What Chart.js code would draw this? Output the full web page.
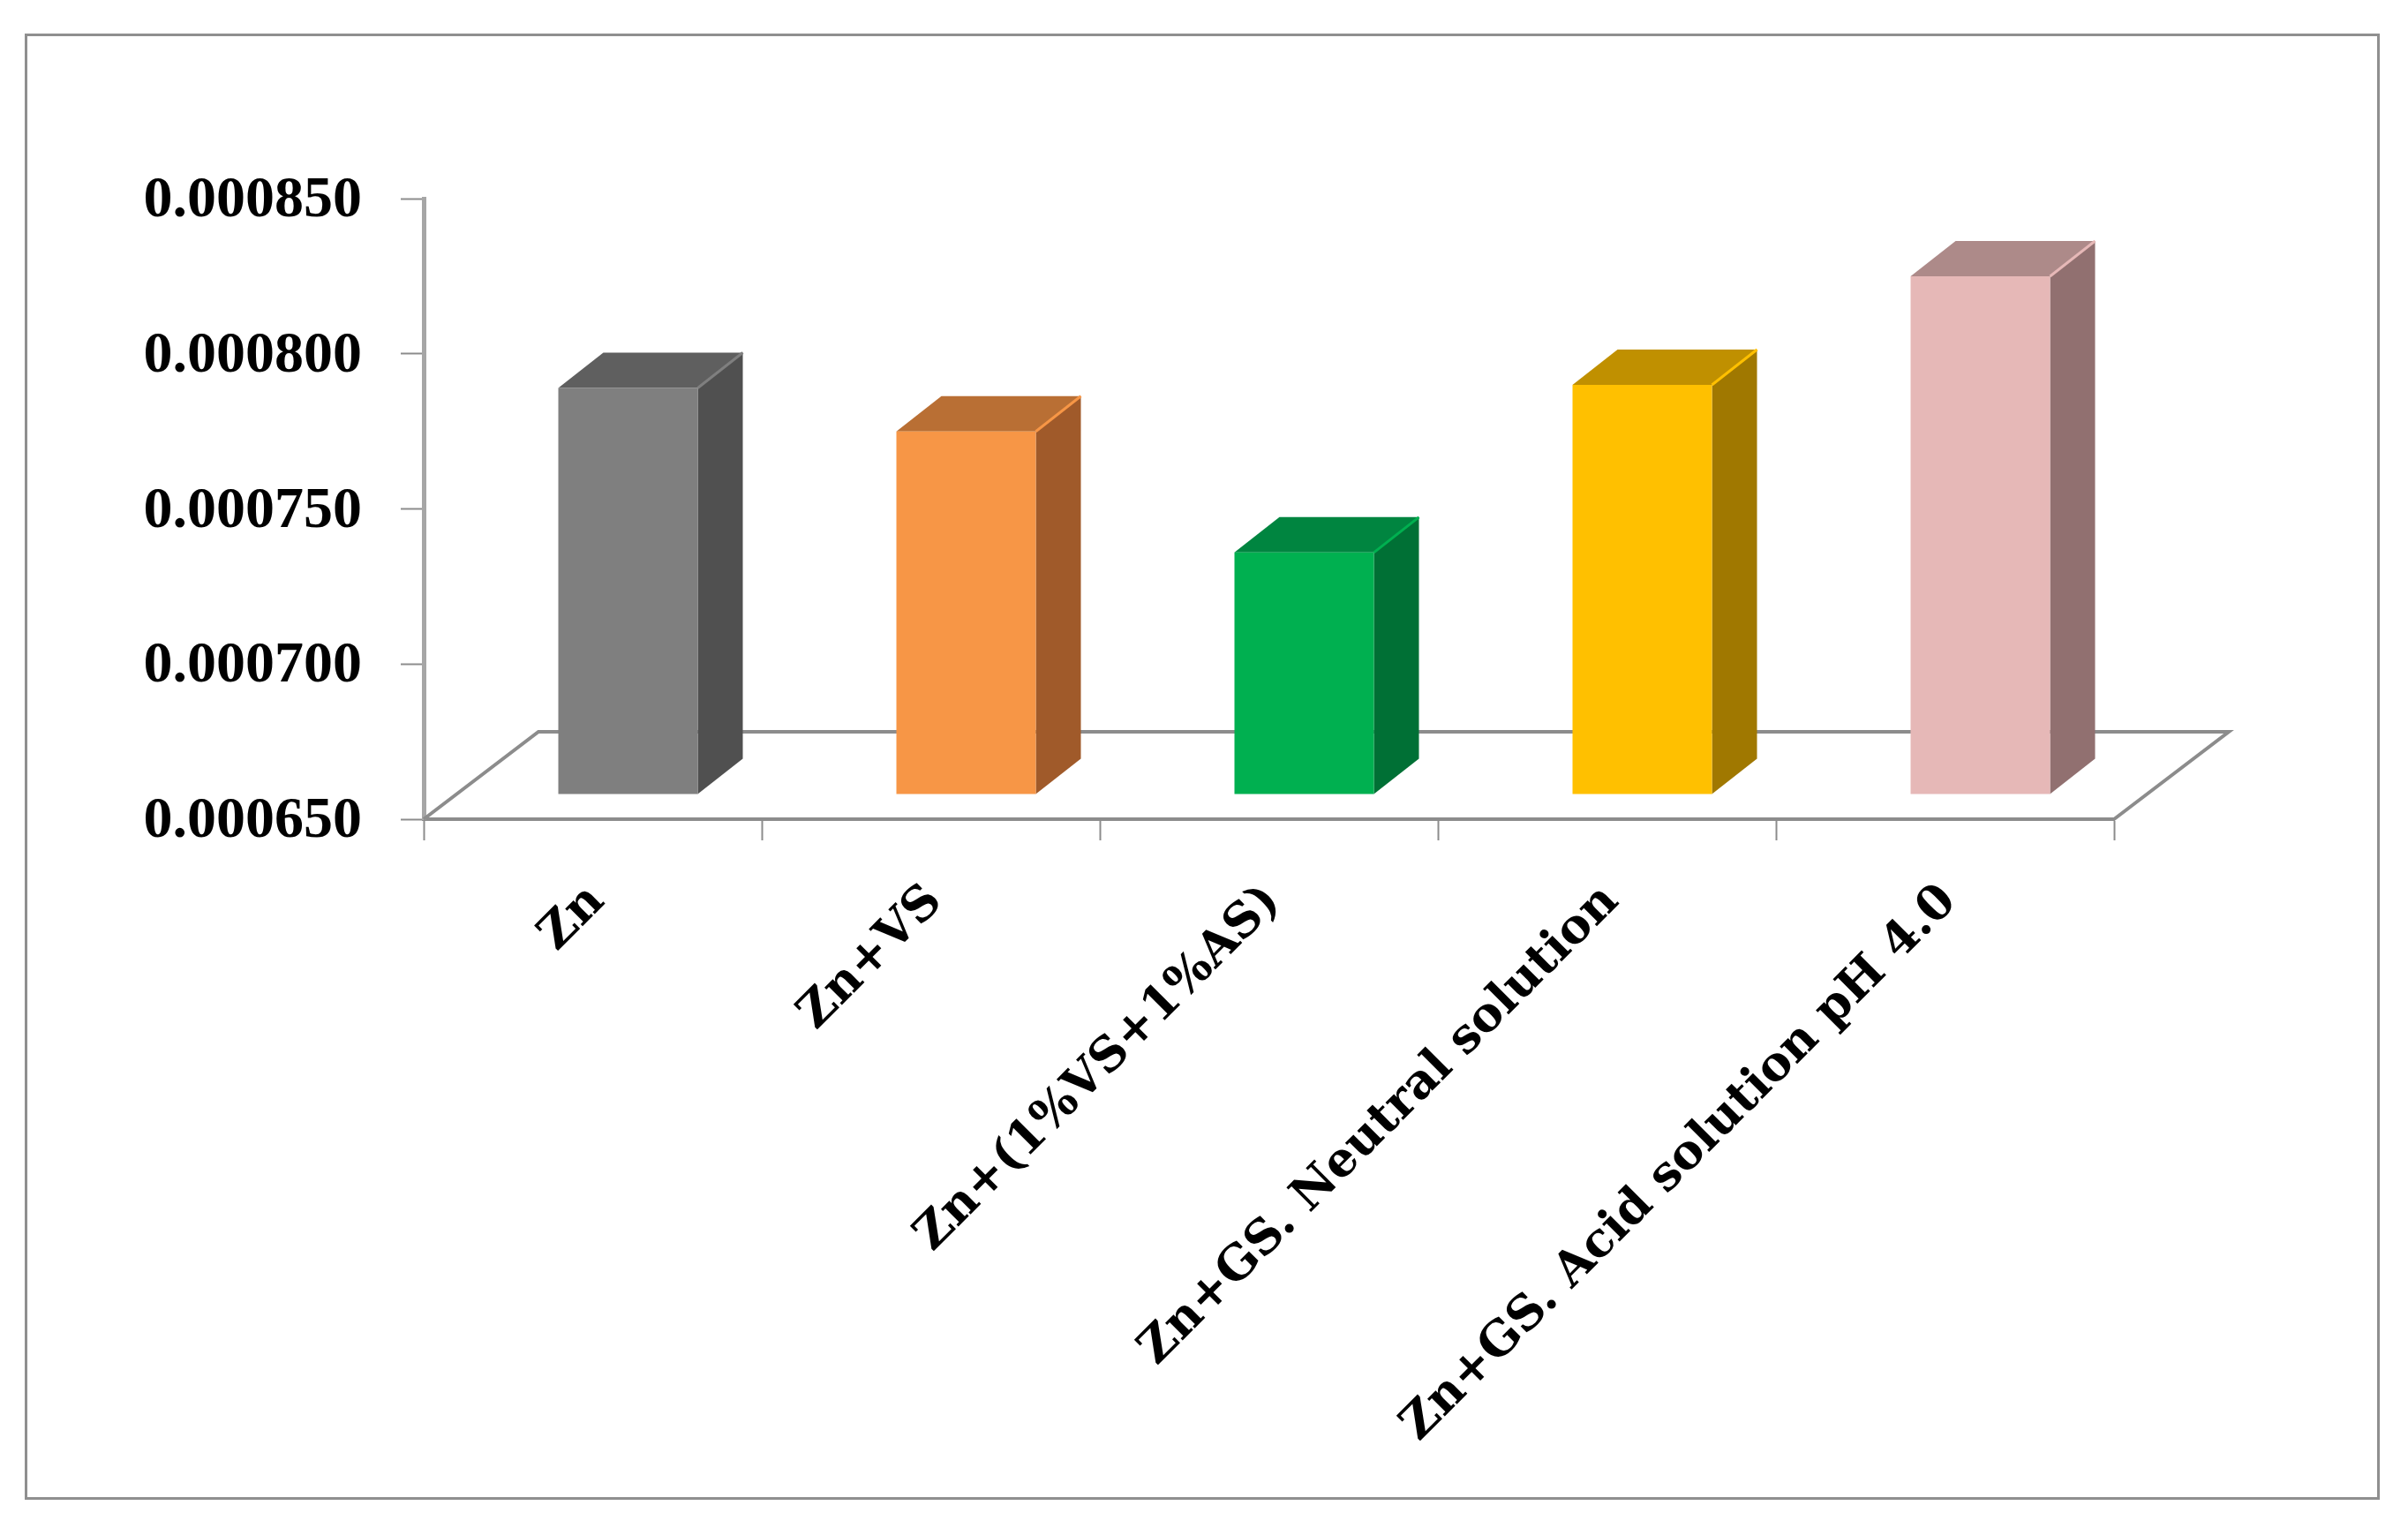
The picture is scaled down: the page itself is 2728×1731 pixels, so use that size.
<!DOCTYPE html>
<html lang="en">
<head>
    <meta charset="UTF-8">
    <title>Zn bars</title>
    <script src="https://cdn.jsdelivr.net/npm/chart.js"></script>
    <style>
        body {
            margin: 0;
            background: #fff;
        }
        canvas {
            position: absolute;
            left: 0;
            top: 0;
        }
        .frame {
            position: absolute;
            left: 28px;
            top: 38px;
            width: 2662px;
            height: 1655px;
            border: 3px solid #8f8f8f;
        }
    </style>
</head>
<body>
    <div class="frame"></div>
    <canvas id="barChart" width="2728" height="1731"></canvas>

    <script>
        const categories = ['Zn', 'Zn+VS', 'Zn+(1%VS+1%AS)', 'Zn+GS. Neutral solution', 'Zn+GS. Acid solution pH 4.0'];
        const values = [0.000781, 0.000767, 0.000728, 0.000782, 0.000817];
        const frontColors = ['#7f7f7f', '#f79646', '#00b050', '#ffc000', '#e6b8b7'];
        const topColors = ['#5f5f5f', '#b96f34', '#008540', '#c09000', '#ad8a89'];
        const sideColors = ['#505050', '#a05a2a', '#007035', '#a07800', '#917070'];
        const yMin = 0.00065;
        const yMax = 0.00085;
        const yStep = 0.00005;

        // offset of the floor depth, and of the bar front inside that depth
        const floorDepth = { x: 130, y: -99 };
        const barShift = { x: 40, y: -28 };
        const barDepth = { x: 51, y: -40 };

        function poly(ctx, color, pts) {
            ctx.fillStyle = color;
            ctx.beginPath();
            pts.forEach((p, i) => i ? ctx.lineTo(p[0], p[1]) : ctx.moveTo(p[0], p[1]));
            ctx.closePath();
            ctx.fill();
        }

        // fake 3D: floor outline, then the side and top faces, with the bar itself moved onto the floor
        const fake3d = {
            id: 'fake3d',
            beforeDatasetsDraw(chart) {
                const { ctx, chartArea: a } = chart;
                ctx.save();
                ctx.strokeStyle = '#8c8c8c';
                ctx.lineWidth = 4;
                ctx.beginPath();
                ctx.moveTo(a.left, a.bottom);
                ctx.lineTo(a.left + floorDepth.x, a.bottom + floorDepth.y);
                ctx.lineTo(a.right + floorDepth.x, a.bottom + floorDepth.y);
                ctx.lineTo(a.right, a.bottom);
                ctx.stroke();
                ctx.restore();
            },
            beforeDatasetDraw(chart, args) {
                const ctx = chart.ctx;
                ctx.save();
                ctx.translate(barShift.x, barShift.y);
                args.meta.data.forEach((bar, i) => {
                    const l = bar.x - bar.width / 2;
                    const r = bar.x + bar.width / 2;
                    poly(ctx, sideColors[i], [[r, bar.y], [r + barDepth.x, bar.y + barDepth.y], [r + barDepth.x, bar.base + barDepth.y], [r, bar.base]]);
                    poly(ctx, topColors[i], [[l, bar.y], [l + barDepth.x, bar.y + barDepth.y], [r + barDepth.x, bar.y + barDepth.y], [r, bar.y]]);
                    // light seam where top and side meet
                    ctx.strokeStyle = frontColors[i];
                    ctx.lineWidth = 3;
                    ctx.beginPath();
                    ctx.moveTo(r, bar.y);
                    ctx.lineTo(r + barDepth.x, bar.y + barDepth.y);
                    ctx.stroke();
                });
            },
            afterDatasetDraw(chart) {
                chart.ctx.restore();
            }
        };

        new Chart(document.getElementById('barChart').getContext('2d'), {
            type: 'bar',
            data: {
                labels: categories,
                datasets: [{
                    data: values,
                    base: yMin,
                    backgroundColor: frontColors,
                    borderWidth: 0,
                    categoryPercentage: 1,
                    barPercentage: 0.4125,
                    clip: false
                }]
            },
            options: {
                responsive: false,
                animation: false,
                layout: { padding: { top: 225, right: 333, left: 0, bottom: 0 } },
                plugins: {
                    legend: { display: false },
                    tooltip: { enabled: false }
                },
                scales: {
                    x: {
                        afterFit(scale) { scale.height = 803; },
                        border: { color: '#8c8c8c', width: 4 },
                        grid: { drawOnChartArea: false, tickColor: '#8c8c8c', tickLength: 24, tickWidth: 2, offset: true },
                        ticks: {
                            color: '#000',
                            autoSkip: false,
                            minRotation: 45,
                            maxRotation: 45,
                            padding: 38,
                            labelOffset: 5,
                            font: { family: '"DejaVu Serif"', weight: 'bold', size: 54 }
                        }
                    },
                    y: {
                        min: yMin,
                        max: yMax,
                        afterFit(scale) { scale.width = 480; },
                        border: { color: '#a6a6a6', width: 5 },
                        grid: { drawOnChartArea: false, tickColor: '#8c8c8c', tickLength: 26, tickWidth: 2 },
                        ticks: {
                            color: '#000',
                            stepSize: yStep,
                            padding: 44,
                            labelOffset: 3,
                            font: { family: '"Liberation Serif"', weight: 'bold', size: 66 },
                            callback: v => v.toFixed(6)
                        }
                    }
                }
            },
            plugins: [fake3d]
        });
    </script>
</body>
</html>
